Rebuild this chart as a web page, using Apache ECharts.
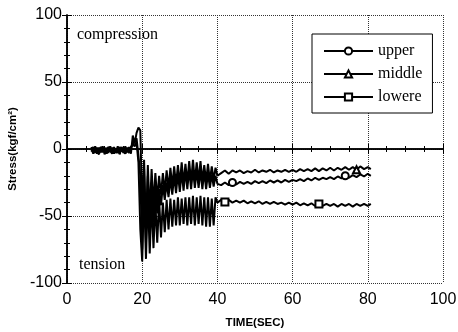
<!DOCTYPE html>
<html><head><meta charset="utf-8">
<script src="https://cdn.jsdelivr.net/npm/echarts@6/dist/echarts.min.js"></script>
<style>html,body{margin:0;padding:0;background:#fff}#c{width:458px;height:332px}</style>
</head><body><div id="c"></div>
<script>
// time (s)
const times = [6.5,7,7.5,8,8.5,9,9.5,10,10.5,11,11.5,12,12.5,13,13.5,14,14.5,15,15.5,16,16.5,17,17.5,18,18.5,19,
  19.5,20,20.5,21,21.5,22,22.5,23,23.5,24,24.5,25,25.5,26,26.5,27,27.5,28,28.5,29,29.5,30,30.5,31,31.5,32,32.5,33,33.5,34,34.5,35,35.5,36,36.5,37,37.5,38,38.5,39,39.5,40,
  41,42,43,44,45,46,47,48,49,50,51,52,53,54,55,56,57,58,59,60,61,62,63,64,65,66,67,68,69,70,71,72,73,74,75,76,77,78,79,80,80.8];
// stress (kgf/cm2)
const middle = [1.5,-3,2,-3.5,1,-2.5,2,-4,1,-3,2,-3.5,1.5,-2.5,2,-4,1,-3,2,-2.5,1.5,-3.5,10,4,12,16,
  14,-45,-8,-60,-12,-50,-15,-42,-18,-38,-20,-34,-18,-32,-16,-30,-14,-28,-13,-27,-12,-26,-10,-26,-11,-25,-9,-25,-8,-24,-10,-24,-9,-24,-12,-24,-11,-24,-13,-23,-14,-20,
  -18,-16,-18.5,-16,-17.5,-16,-18,-16.5,-17.5,-15.5,-17.5,-16,-17,-15.5,-17.5,-16,-17,-15.5,-17,-15.5,-17,-15,-16.5,-15,-16.5,-14.5,-16.5,-14.5,-16,-14,-16,-14,-15.5,-13.5,-15.5,-13.5,-15.5,-13,-15,-13.5,-15];
const upper = [-2,1.5,-3,1,-3.5,1.5,-2,1,-3.5,1.5,-2,1,-3.5,0.5,-3,1.5,-2,1,-3.5,0.5,-3,1.5,3,6,8,-5,
  -20,-75,-15,-70,-20,-62,-25,-55,-28,-48,-30,-42,-27,-38,-25,-36,-22,-34,-20,-33,-18,-32,-17,-31,-16,-30,-15,-30,-15,-29,-16,-29,-16,-30,-17,-30,-18,-29,-19,-28,-20,-26,
  -27,-25,-27,-25,-26.5,-24.5,-26,-24.5,-26,-24,-25.5,-24,-25.5,-23.5,-25,-23.5,-25,-23,-24.5,-23,-24,-22.5,-24,-22,-23.5,-21.5,-23,-21.5,-22.5,-21,-22.5,-20.5,-22,-20,-21.5,-19.5,-21,-19,-20.5,-18.5,-20];
const lowere = [0,-3.5,1,-2,-4,1.5,-2.5,0,-3.5,1.5,-1.5,-3.5,1,-3,0.5,-3.5,1.5,-2,-3.5,1,-2,-3,4,2,5,-10,
  -60,-84,-30,-82,-35,-78,-38,-74,-40,-70,-38,-66,-40,-62,-38,-60,-37,-58,-38,-57,-36,-57,-37,-56,-36,-57,-36,-56,-35,-57,-36,-56,-35,-57,-36,-58,-36,-58,-37,-57,-36,-40,
  -38,-39.5,-38,-40,-38.5,-40,-38.5,-40.5,-39,-40.5,-39,-41,-39.5,-41,-39.5,-41,-40,-41.5,-40,-41.5,-40,-42,-40.5,-42,-40.5,-42.5,-41,-42.5,-41,-42.5,-41,-43,-41,-42.5,-41,-43,-41,-42.5,-41,-42.5,-41];
// indices of points that carry a marker symbol
const upperMarks = [71, 101];
const middleMarks = [104];
const lowereMarks = [69, 94];

const toPairs = arr => times.map((t, i) => [t, arr[i]]);
const chart = echarts.init(document.getElementById('c'), null, {renderer: 'canvas'});
const black = '#000';
const sansFont = 'Liberation Sans';
const serifFont = 'Liberation Serif';
function mk(name, arr, sym, marks) {
  return {
    name, type: 'line', data: toPairs(arr), symbol: sym,
    symbolSize: (v, p) => marks.includes(p.dataIndex) ? 7 : 0,
    showAllSymbol: true, animation: false,
    lineStyle: {color: black, width: 2},
    itemStyle: {color: black, borderColor: black, borderWidth: 1},
    emphasis: {disabled: true}
  };
}
const xAxisBase = {type: 'value', min: 0, max: 100, interval: 20};
const yAxisBase = {type: 'value', min: -100, max: 100, interval: 50};
chart.setOption({
  backgroundColor: '#fff',
  animation: false,
  grid: {left: 67, right: 15, top: 15, bottom: 49, containLabel: false, outerBoundsMode: 'none'},
  legend: {
    orient: 'vertical', left: 312, top: 34,
    padding: [9, 10, 8, 11], itemWidth: 49, itemHeight: 9, itemGap: 7,
    borderColor: black, borderWidth: 1, backgroundColor: '#fff',
    textStyle: {fontFamily: serifFont, fontSize: 16, color: black},
    data: ['upper', 'middle', 'lowere']
  },
  xAxis: [
    Object.assign({}, xAxisBase, {
      position: 'bottom',
      name: 'TIME(SEC)', nameLocation: 'middle', nameGap: 34,
      nameTextStyle: {fontFamily: sansFont, fontSize: 11.5, fontWeight: 'bold', color: black},
      axisLine: {show: true, lineStyle: {color: black, width: 1.5}},
      axisTick: {show: true, inside: true, length: 5, lineStyle: {color: black}},
      minorTick: {show: true, splitNumber: 4, length: 3, lineStyle: {color: black}},
      axisLabel: {fontFamily: sansFont, fontSize: 16, color: black, margin: 9},
      splitLine: {show: true, lineStyle: {color: '#333', type: 'dotted', width: 1}}
    }),
    Object.assign({}, xAxisBase, {
      position: 'top',
      axisLine: {show: true, lineStyle: {color: black, width: 1.5}},
      axisTick: {show: true, inside: true, length: 5, lineStyle: {color: black}},
      minorTick: {show: true, splitNumber: 4, length: 3, lineStyle: {color: black}},
      axisLabel: {show: false}, splitLine: {show: false}
    })
  ],
  yAxis: [
    Object.assign({}, yAxisBase, {
      position: 'left',
      name: 'Stress(kgf/cm²)', nameLocation: 'middle', nameGap: 41,
      nameTextStyle: {fontFamily: sansFont, fontSize: 11.5, fontWeight: 'bold', color: black},
      axisLine: {show: true, lineStyle: {color: black, width: 1.5}},
      axisTick: {show: true, inside: true, length: 5, lineStyle: {color: black}},
      minorTick: {show: true, splitNumber: 5, length: 3, lineStyle: {color: black}},
      axisLabel: {fontFamily: sansFont, fontSize: 16, color: black, margin: 5},
      splitLine: {show: true, lineStyle: {color: '#333', type: 'dotted', width: 1}}
    }),
    Object.assign({}, yAxisBase, {
      position: 'right',
      axisLine: {show: true, lineStyle: {color: black, width: 1.5}},
      axisTick: {show: true, inside: true, length: 5, lineStyle: {color: black}},
      minorTick: {show: true, splitNumber: 5, length: 3, lineStyle: {color: black}},
      axisLabel: {show: false}, splitLine: {show: false}
    })
  ],
  graphic: [
    {type: 'text', left: 77, top: 27, style: {text: 'compression', fontFamily: serifFont, fontSize: 16, fill: black}},
    {type: 'text', left: 79, top: 257, style: {text: 'tension', fontFamily: serifFont, fontSize: 16, fill: black}}
  ],
  series: [
    mk('upper', upper, 'emptyCircle', upperMarks),
    mk('middle', middle, 'emptyTriangle', middleMarks),
    mk('lowere', lowere, 'emptyRect', lowereMarks)
  ]
});
</script>
</body></html>
